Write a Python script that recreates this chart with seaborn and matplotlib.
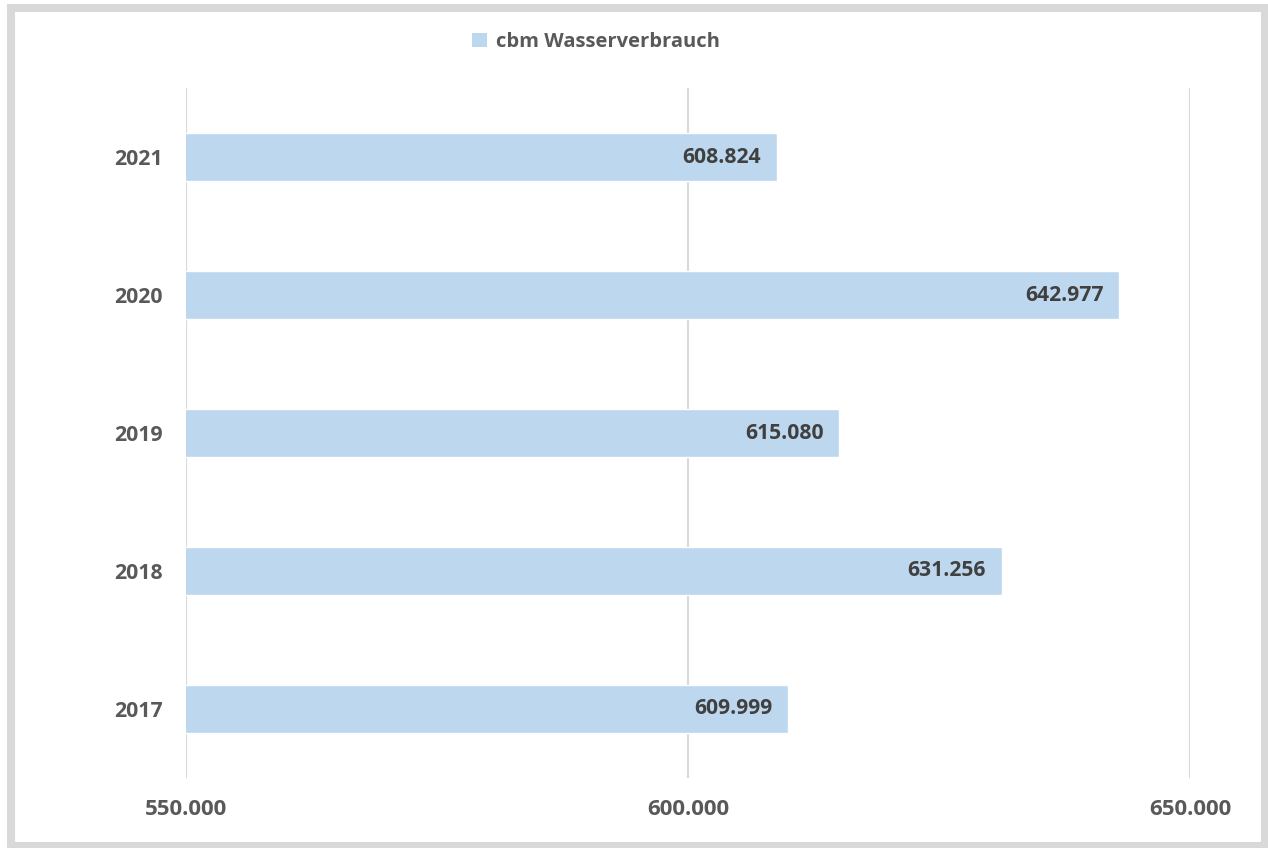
import matplotlib
matplotlib.use("Agg")
import matplotlib.pyplot as plt
import seaborn as sns
import pandas as pd
from matplotlib.patches import Rectangle, Patch
from matplotlib.ticker import FuncFormatter

# Annual water consumption in cubic metres
years = ["2021", "2020", "2019", "2018", "2017"]
consumption = [608824, 642977, 615080, 631256, 609999]
series_name = "cbm Wasserverbrauch"
x_ticks = [550000, 600000, 650000]

bar_color = "#BDD7EE"
axis_text = "#595959"
label_text = "#404040"
grid_color = "#D9D9D9"

sns.set_theme(style="white")
plt.rcParams["font.family"] = ["Open Sans", "DejaVu Sans"]

df = pd.DataFrame({"Jahr": years, "Verbrauch": consumption})

W, H = 1268, 848
fig = plt.figure(figsize=(W / 100, H / 100), dpi=100)
ax = fig.add_axes([186 / W, (H - 778) / H, (1190 - 186) / W, (778 - 88) / H])

sns.barplot(data=df, x="Verbrauch", y="Jahr", order=years, orient="h",
            color=bar_color, saturation=1, width=0.355, ax=ax, zorder=2)

ax.set_xlim(x_ticks[0], x_ticks[-1])
ax.set_xticks(x_ticks)


def de_thousands(v, _pos=None):
    return f"{int(round(v)):,}".replace(",", ".")


ax.xaxis.set_major_formatter(FuncFormatter(de_thousands))
ax.grid(axis="x", color=grid_color, linewidth=1.5, zorder=0)
ax.grid(axis="y", visible=False)
for s in ax.spines.values():
    s.set_visible(False)
ax.tick_params(axis="both", length=0, labelcolor=axis_text)
ax.tick_params(axis="x", pad=15, labelsize=16)
ax.tick_params(axis="y", pad=17, labelsize=15.3)
for lbl in ax.get_xticklabels() + ax.get_yticklabels():
    lbl.set_fontweight("bold")
ax.set_xlabel("")
ax.set_ylabel("")

# Value labels inside the bar ends
for i, v in enumerate(consumption):
    ax.annotate(de_thousands(v), xy=(v, i), xytext=(-11.5, 0),
                textcoords="offset points", ha="right", va="center",
                fontsize=15.2, fontweight="bold", color=label_text, zorder=3)

# Legend at the top
handle = Patch(facecolor=bar_color, edgecolor="none", label=series_name)
fig.legend(handles=[handle], loc="center", bbox_to_anchor=(596 / W, 1 - 42 / H),
           frameon=False, handlelength=0.72, handleheight=0.72, handletextpad=0.45,
           prop={"size": 14.5, "weight": "bold"}, labelcolor=axis_text)

# Outer frame around the chart
fig.patches.append(Rectangle((11 / W, 1 - 846 / H), (1265 - 11) / W, (846 - 8) / H,
                             transform=fig.transFigure, fill=False,
                             edgecolor=grid_color, linewidth=5.8, zorder=10))

fig.savefig("out.png", dpi=100)
